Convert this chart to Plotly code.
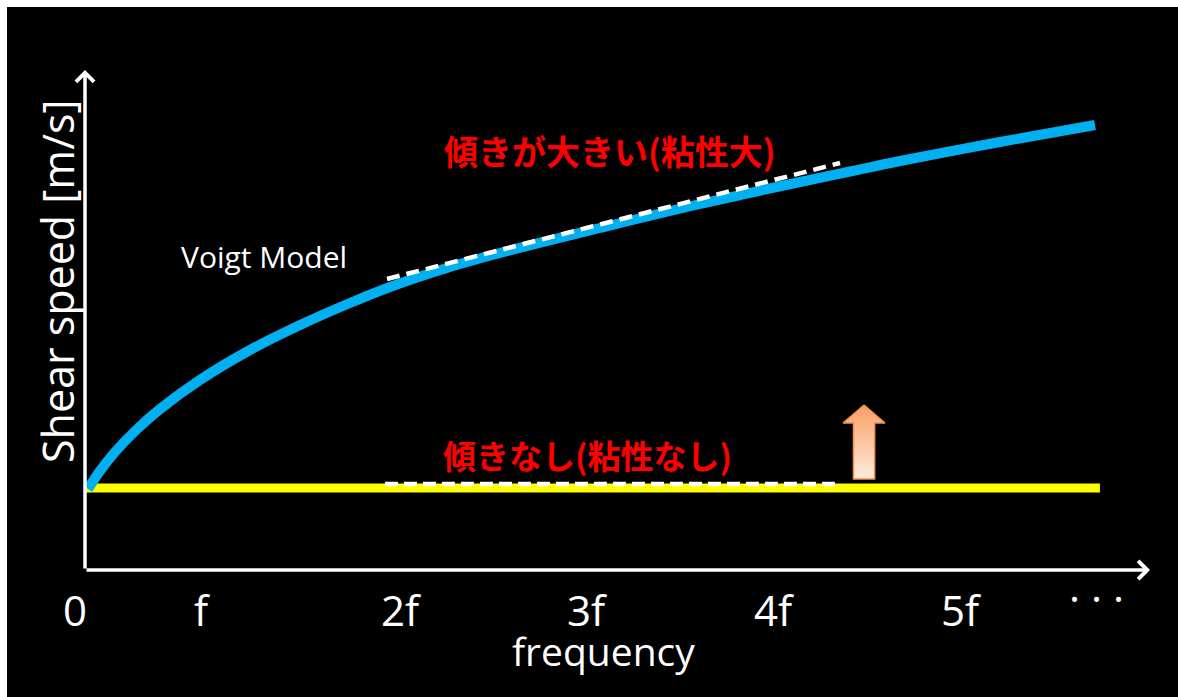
import plotly.graph_objects as go

# ---- data (frequency in units of f-spacing, speed in arbitrary units) ----
voigt_freq = [0.016, 0.079, 0.159, 0.265, 0.397, 0.608, 0.873, 1.138, 1.402, 1.614,
              1.931, 2.196, 2.725, 3.254, 3.783, 4.048, 4.312, 4.841, 5.344]
voigt_speed = [0.81, 0.99, 1.18, 1.39, 1.61, 1.90, 2.20, 2.45, 2.67, 2.83,
               3.03, 3.17, 3.42, 3.66, 3.88, 3.985, 4.09, 4.28, 4.45]
elastic_freq = [0.0, 5.37]
elastic_speed = [0.82, 0.82]
tangent_visc_freq = [1.598, 3.995]
tangent_visc_speed = [2.91, 4.07]
tangent_elastic_freq = [1.587, 3.968]
tangent_elastic_speed = [0.86, 0.86]

tick_labels = ["0", "f", "2f", "3f", "4f", "5f"]
tick_pos = [-0.053, 0.624, 1.672, 2.661, 3.646, 4.640]
ellipsis_label = "· · ·"
ellipsis_pos = 5.354

x_axis_end = 5.635
y_axis_end = 5.0

fig = go.Figure()

# Orange up arrow (gradient filled)
ax_c, ax_base, ax_neck, ax_tip = 4.122, 0.91, 1.47, 1.65
hw, sw = 0.111, 0.056
arrow_x = [ax_c, ax_c + hw, ax_c + sw, ax_c + sw, ax_c - sw, ax_c - sw, ax_c - hw, ax_c]
arrow_y = [ax_tip, ax_neck, ax_neck, ax_base, ax_base, ax_neck, ax_neck, ax_tip]
fig.add_trace(go.Scatter(
    x=arrow_x, y=arrow_y, mode="lines", fill="toself",
    fillgradient=dict(type="vertical",
                      colorscale=[[0, "#FEECE0"], [1, "#F9A064"]]),
    line=dict(color="#F09050", width=1.5), hoverinfo="skip", showlegend=False))

# elastic (yellow) line
fig.add_trace(go.Scatter(x=elastic_freq, y=elastic_speed, mode="lines",
                         line=dict(color="#FFFF00", width=9), showlegend=False))
# Voigt (blue) curve
fig.add_trace(go.Scatter(x=voigt_freq, y=voigt_speed, mode="lines",
                         line=dict(color="#00B0F0", width=10, shape="spline", smoothing=1.0),
                         showlegend=False))
# dashed tangents
fig.add_trace(go.Scatter(x=tangent_visc_freq, y=tangent_visc_speed, mode="lines",
                         line=dict(color="white", width=4.5, dash="13px,7px"), showlegend=False))
fig.add_trace(go.Scatter(x=tangent_elastic_freq, y=tangent_elastic_speed, mode="lines",
                         line=dict(color="white", width=4.5, dash="13px,6px"), showlegend=False))

annotations = []
# axes as arrows
annotations.append(dict(x=x_axis_end, y=0, ax=0, ay=0, axref="x", ayref="y", xref="x", yref="y",
                        text="", showarrow=True, arrowhead=4, arrowsize=1, arrowwidth=3.5,
                        arrowcolor="white"))
annotations.append(dict(x=0, y=y_axis_end, ax=0, ay=0, axref="x", ayref="y", xref="x", yref="y",
                        text="", showarrow=True, arrowhead=4, arrowsize=1, arrowwidth=3.5,
                        arrowcolor="white"))

latin = "Open Sans, Noto Sans, sans-serif"
for lbl, p in zip(tick_labels, tick_pos):
    annotations.append(dict(x=p, y=-0.39, xref="x", yref="y", text=lbl, showarrow=False,
                            borderpad=0,
                            font=dict(family=latin, size=42, color="white")))
annotations.append(dict(x=ellipsis_pos, y=-0.27, xref="x", yref="y", text=ellipsis_label,
                        showarrow=False, font=dict(family=latin, size=42, color="white")))

annotations.append(dict(x=2.741, y=-0.80, xref="x", yref="y", text="frequency", showarrow=False,
                        borderpad=0,
                        font=dict(family=latin, size=39, color="white")))
annotations.append(dict(x=-0.148, y=2.89, xref="x", yref="y", text="Shear speed [m/s]",
                        textangle=-90, showarrow=False,
                        font=dict(family=latin, size=43, color="white")))
annotations.append(dict(x=0.947, y=3.14, xref="x", yref="y", text="Voigt Model", showarrow=False,
                        font=dict(family=latin, size=30, color="white")))
cjk = "Noto Sans CJK JP"
annotations.append(dict(x=2.778, y=4.20, xref="x", yref="y", text="<b>傾きが大きい(粘性大)</b>",
                        showarrow=False, font=dict(family=cjk, size=34, color="#FF0000")))
annotations.append(dict(x=2.661, y=1.15, xref="x", yref="y", text="<b>傾きなし(粘性なし)</b>",
                        showarrow=False, font=dict(family=cjk, size=33, color="#FF0000")))

fig.update_layout(
    width=1178, height=697,
    margin=dict(l=7, r=0, t=7, b=0),
    paper_bgcolor="white", plot_bgcolor="black",
    xaxis=dict(range=[-0.4127, 5.7831], visible=False, fixedrange=True),
    yaxis=dict(range=[-1.27, 5.63], visible=False, fixedrange=True),
    annotations=annotations,
    showlegend=False,
)

fig.write_html("out.html", config={"displayModeBar": False},
               post_script="document.body.style.margin='0';document.body.style.padding='0';")
